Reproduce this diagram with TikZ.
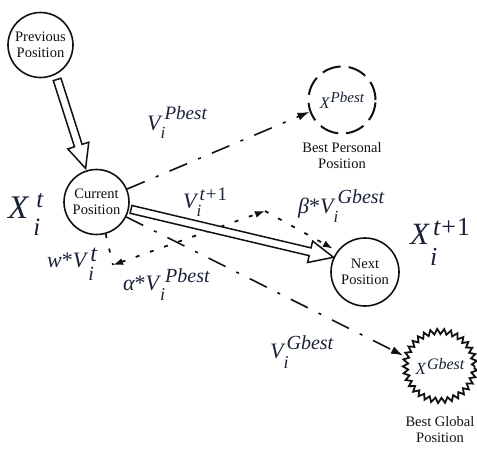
\documentclass[tikz,border=0pt]{standalone}
\usepackage{fontspec}
\setmainfont{Liberation Serif}
\usetikzlibrary{calc,arrows.meta,decorations.pathmorphing}
\definecolor{labcol}{HTML}{1A2238}
\definecolor{inkcol}{HTML}{111111}
\newcommand{\lsub}[4]{\rlap{\kern#1pt\raisebox{-#2pt}{\fontsize{#3}{#3}\selectfont #4}}}
\newcommand{\lsup}[4]{\kern#1pt\raisebox{#2pt}{\fontsize{#3}{#3}\selectfont #4}}
\newcommand{\fatarrow}[2]{%
  \filldraw[fatarrowstyle] ($(#1)!4pt!90:(#2)$) -- ($(#2)!24pt!(#1)!4pt!90:(#2)$) -- ($(#2)!24pt!(#1)!11pt!90:(#2)$) -- (#2) -- ($(#2)!24pt!(#1)!11pt!-90:(#2)$) -- ($(#2)!24pt!(#1)!4pt!-90:(#2)$) -- ($(#1)!4pt!-90:(#2)$) -- cycle;}
\tikzset{
  posnode/.style={circle, draw=inkcol, line width=1.6pt, inner sep=0pt, align=center,
    font=\fontsize{14.5}{16.5}\selectfont, text=inkcol},
  pbestnode/.style={circle, draw=inkcol, line width=2pt, dash pattern=on 19pt off 8pt,
    inner sep=0pt, minimum size=67pt, text=labcol},
  gbestnode/.style={circle, draw=inkcol, line width=1.8pt, decorate,
    decoration={zigzag, segment length=6.5pt, amplitude=2.6pt},
    inner sep=0pt, minimum size=69pt, text=labcol},
  captext/.style={align=center, inner sep=0pt, font=\fontsize{14.5}{16}\selectfont, text=inkcol},
  mlabel/.style={inner sep=0pt, anchor=base west, text=labcol},
  fatarrowstyle/.style={draw=inkcol, fill=white, line width=1.5pt, line join=miter},
  dashdot/.style={draw=inkcol, line width=1.6pt, dash pattern=on 19pt off 12pt on 3pt off 12pt,
    -{Latex[length=12pt,width=8pt]}},
  dotline/.style={draw=inkcol, line width=1.8pt, dash pattern=on 4pt off 11pt},
  dottip/.style={{Latex[length=10pt,width=7pt]}-{Latex[length=10pt,width=7pt]}},
  dotend/.style={-{Latex[length=10pt,width=7pt]}}
}
\begin{document}
\begin{tikzpicture}[x=1pt,y=-1pt]
\useasboundingbox (0,0) rectangle (477,448);
% position nodes
\node[posnode, minimum size=65pt] (prev) at (40.5,45) {Previous\\Position};
\node[posnode, minimum size=65pt] (cur) at (96.5,202) {Current\\Position};
\node[posnode, minimum size=68pt] (next) at (365,272) {Next\\Position};
\node[pbestnode] (pbest) at (342,100) {\fontsize{16}{16}\selectfont\itshape X\lsup{1}{6}{15}{Pbest}};
\node[gbestnode] (gbest) at (440,366) {\fontsize{17}{17}\selectfont\itshape X\lsup{1}{5}{16}{Gbest}};
\node[captext] (pcap) at (342,155.5) {Best Personal\\Position};
\node[captext] (gcap) at (440,430) {Best Global\\Position};
% labels
\node[mlabel] (lXt) at (8,218) {\fontsize{33}{33}\selectfont\itshape X\lsub{5}{17}{25}{i}\lsup{8}{11}{25}{t}};
\node[mlabel] (lVP) at (147,130) {\fontsize{22}{22}\selectfont\itshape V\lsub{0}{8}{17}{i}\lsup{4}{11}{19}{Pbest}};
\node[mlabel] (lVt1) at (183,208) {\fontsize{22}{22}\selectfont\itshape V\lsub{0}{8}{17}{i}\lsup{3}{8}{19}{t\kern1pt{\upshape+\kern1pt1}}};
\node[mlabel] (lbeta) at (298,213) {\fontsize{22}{22}\selectfont\itshape β{\upshape*}V\lsub{0}{9}{17}{i}\lsup{4}{10}{20}{Gbest}};
\node[mlabel] (lXt1) at (410,244) {\fontsize{31}{31}\selectfont\itshape X\lsub{1}{21}{26}{i}\lsup{4}{9}{26}{t\kern1pt{\upshape+\kern1pt1}}};
\node[mlabel] (lw) at (47,267) {\fontsize{22}{22}\selectfont\itshape w{\upshape*}V\lsub{2}{13}{20}{i}\lsup{4}{6}{24}{t}};
\node[mlabel] (lalpha) at (123,290) {\fontsize{22}{22}\selectfont\itshape α{\upshape*}V\lsub{1}{10}{18}{i}\lsup{6}{8}{20}{Pbest}};
\node[mlabel] (lVG) at (270,358) {\fontsize{22}{22}\selectfont\itshape V\lsub{0}{10}{18}{i}\lsup{3}{9}{20}{Gbest}};
% construction points
\coordinate (vecA) at (113,265);
\coordinate (vecB) at (265,211);
% dash-dot connectors
\draw[dashdot] (cur) -- (pbest.200);
\draw[dashdot, shorten >=3pt] (cur) -- (gbest.165);
% dotted connectors
\draw[dotline] (cur.-74) -- (vecA);
\draw[dotline, dottip] (vecA) -- (vecB);
\draw[dotline, dotend, shorten >=5pt] (vecB) -- (next.143);
% hollow arrows
\coordinate (fa1s) at ($(prev.-63)!5pt!(cur.108)$);
\coordinate (fa1e) at ($(cur.108)!2pt!(prev.-63)$);
\fatarrow{fa1s}{fa1e}
\coordinate (fa2s) at ($(cur.-12)!2pt!(next.155)$);
\coordinate (fa2e) at (next.155);
\fatarrow{fa2s}{fa2e}
\end{tikzpicture}
\end{document}
